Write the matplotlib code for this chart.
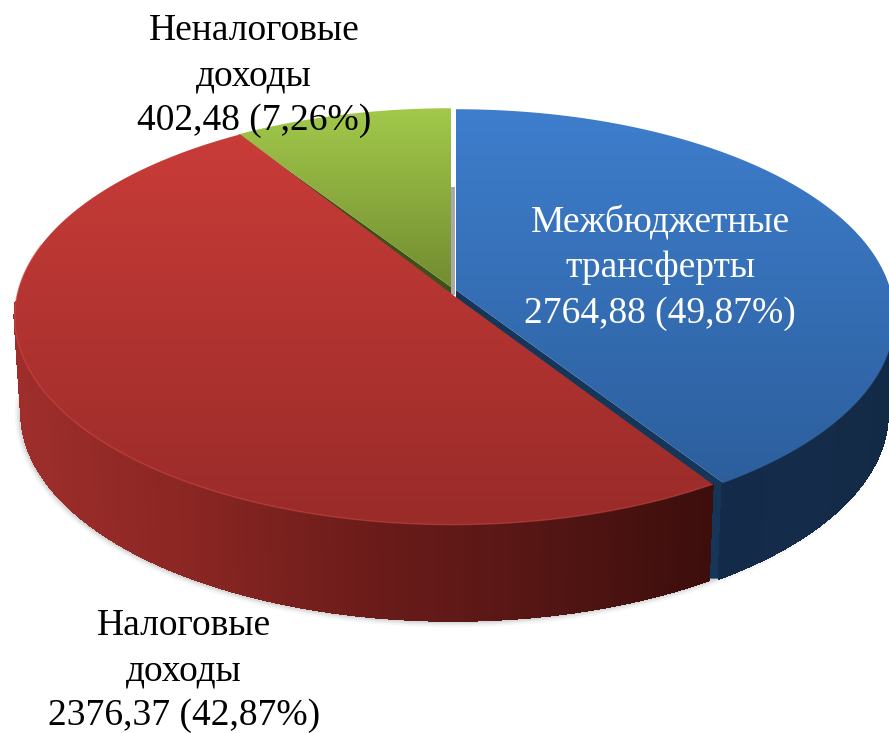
#!/usr/bin/env python
# -*- coding: utf-8 -*-
import numpy as np
import matplotlib
matplotlib.use('Agg')
from matplotlib import pyplot as plt
from matplotlib.collections import PolyCollection
from matplotlib.colors import LinearSegmentedColormap, to_rgb
from matplotlib.patches import Polygon

# share of each drawn slice, clockwise from 12 o'clock
slice_names = ['blue', 'red', 'green']
slice_shares = [40.6, 50.5, 8.9]

labels = ['Межбюджетные\nтрансферты\n2764,88 (49,87%)',
          'Налоговые\nдоходы\n2376,37 (42,87%)',
          'Неналоговые\nдоходы\n402,48 (7,26%)']

# canvas is in pixels, y going down
W, H = 889, 733
CX, CY = 453, 295
RX, RY = 436, 206
P = 0.103
DEPTH = 96
SHRINK = 0.985

top_cols = {'blue': ('#3e7ecd', '#2a5b97'),
            'red': ('#cc3d39', '#992b29'),
            'green': ('#a2c94b', '#70892f')}
# side colour from left to right of each slice
side_cols = {'blue': ['#132b49', '#142c4a', '#132a45'],
             'red': ['#9e2e2b', '#8a2623', '#6c1c1a', '#551614', '#3c0e0c']}
cut_cols = {'blue': '#163659', 'green': '#3f4f18'}

# apex / rim shift of every slice (small explosion)
apex_off = {'blue': (3, -5), 'red': (0, 0), 'green': (-2, -8)}
rim_off = {'blue': (3, 1), 'red': (0, 0), 'green': (-2, 0)}


def rim(theta, off=(0, 0)):
    # theta in degrees clockwise from the top, circle seen in perspective
    t = np.radians(theta)
    u, v = np.sin(t), -np.cos(t)
    d = 1 - P * v
    return CX + off[0] + RX * u / d, CY + off[1] + RY * v / d


def drop(x, y):
    return CX + (x - CX) * SHRINK, y + DEPTH


fig = plt.figure(figsize=(W / 100, H / 100), dpi=100)
ax = fig.add_axes([0, 0, 1, 1])
ax.axis('off')

edges = np.concatenate([[0], np.cumsum(slice_shares)]) * 360 / sum(slice_shares)
gap = {'blue': (0, -0.2), 'red': (0.9, 0), 'green': (0, 0)}
spans = {n: (edges[i] + gap[n][0], edges[i + 1] + gap[n][1]) for i, n in enumerate(slice_names)}

# soft shadow under the body
th = np.linspace(88, 268, 300)
sx, sy = drop(*rim(th))
for lw, a in [(8, 0.05), (5, 0.08), (2.5, 0.12)]:
    ax.plot(sx - 1, sy + 1, color='#555555', lw=lw, alpha=a, solid_capstyle='round', zorder=1)

# grey back wall seen through the gap
ax.add_patch(Polygon([(CX - 2, 187), (CX + 2, 187), (CX + 2, CY), (CX - 2, CY)],
                     fc='#a9a9a9', ec='none', zorder=2))

# cut faces
t_b = spans['blue'][1]
ax_, ay_ = CX + apex_off['blue'][0], CY + apex_off['blue'][1]
bx, by = rim(t_b, rim_off['blue'])
bx2, by2 = drop(bx, by)
ax.add_patch(Polygon([(ax_, ay_), (bx, by), (bx2, by2), (bx2 - 12, by2), (ax_, ay_ + DEPTH)],
                     fc=cut_cols['blue'], ec='none', zorder=3))
t_g = spans['green'][0]
gx, gy = rim(t_g, rim_off['green'])
ax.add_patch(Polygon([(CX + apex_off['green'][0], CY + apex_off['green'][1]), (gx, gy),
                      (gx, gy + 8), (CX + apex_off['green'][0], CY + 2)],
                     fc=cut_cols['green'], ec='none', zorder=3))

# curved sides, thin strips shaded along x, only the part facing us
for name in ['blue', 'red']:
    t0, t1 = spans[name]
    th = np.linspace(max(t0, 88), min(t1, 268), 300)
    x, y = rim(th, rim_off[name])
    xb, yb = drop(x, y)
    cm = LinearSegmentedColormap.from_list(name, side_cols[name])
    lo, hi = x.min(), x.max()
    quads, cols = [], []
    for i in range(len(th) - 1):
        quads.append([(x[i], y[i]), (x[i + 1], y[i + 1]), (xb[i + 1], yb[i + 1]), (xb[i], yb[i])])
        cols.append(cm((x[i] - lo) / (hi - lo)))
    ax.add_collection(PolyCollection(quads, facecolors=cols, edgecolors=cols, linewidths=1.0,
                                     antialiaseds=False, zorder=4))

# top faces with a vertical gradient
grad = np.linspace(0, 1, 256).reshape(-1, 1)
order = {'green': 5, 'blue': 6, 'red': 7}
for name in slice_names:
    t0, t1 = spans[name]
    x, y = rim(np.linspace(t0, t1, 200), rim_off[name])
    ax0 = CX + apex_off[name][0]
    ay0 = CY + apex_off[name][1]
    pts = np.column_stack([np.r_[ax0, x], np.r_[ay0, y]])
    poly = Polygon(pts, fc='none', ec='none', transform=ax.transData)
    ax.add_patch(poly)
    cm = LinearSegmentedColormap.from_list(name + 't', [to_rgb(c) for c in top_cols[name]])
    top, bot = rim(0)[1], rim(180)[1]
    if name == 'green':
        bot = CY
    im = ax.imshow(grad, cmap=cm, extent=[0, W, bot, top], aspect='auto', zorder=order[name])
    im.set_clip_path(poly)

# light rim along the front of the top
for name, c, a in [('red', '#d9534e', 0.45), ('blue', '#3f75b5', 0.35)]:
    t0, t1 = spans[name]
    th = np.linspace(t0, t1, 200)
    keep = (th > 90) & (th < 285)
    x, y = rim(th[keep], rim_off[name])
    ax.plot(x, y, color=c, lw=1.0, alpha=a, zorder=8)

ax.set_xlim(0, W)
ax.set_ylim(H, 0)

font = {'family': 'Liberation Serif', 'fontsize': 27, 'ha': 'center', 'va': 'center',
        'linespacing': 1.4, 'zorder': 10}
ax.text(660, 268, labels[0], color='white', **font)
ax.text(184, 671, labels[1], color='black', **font)
ax.text(254, 76, labels[2], color='black', **font)

plt.savefig('out.png', dpi=100)
plt.close()
